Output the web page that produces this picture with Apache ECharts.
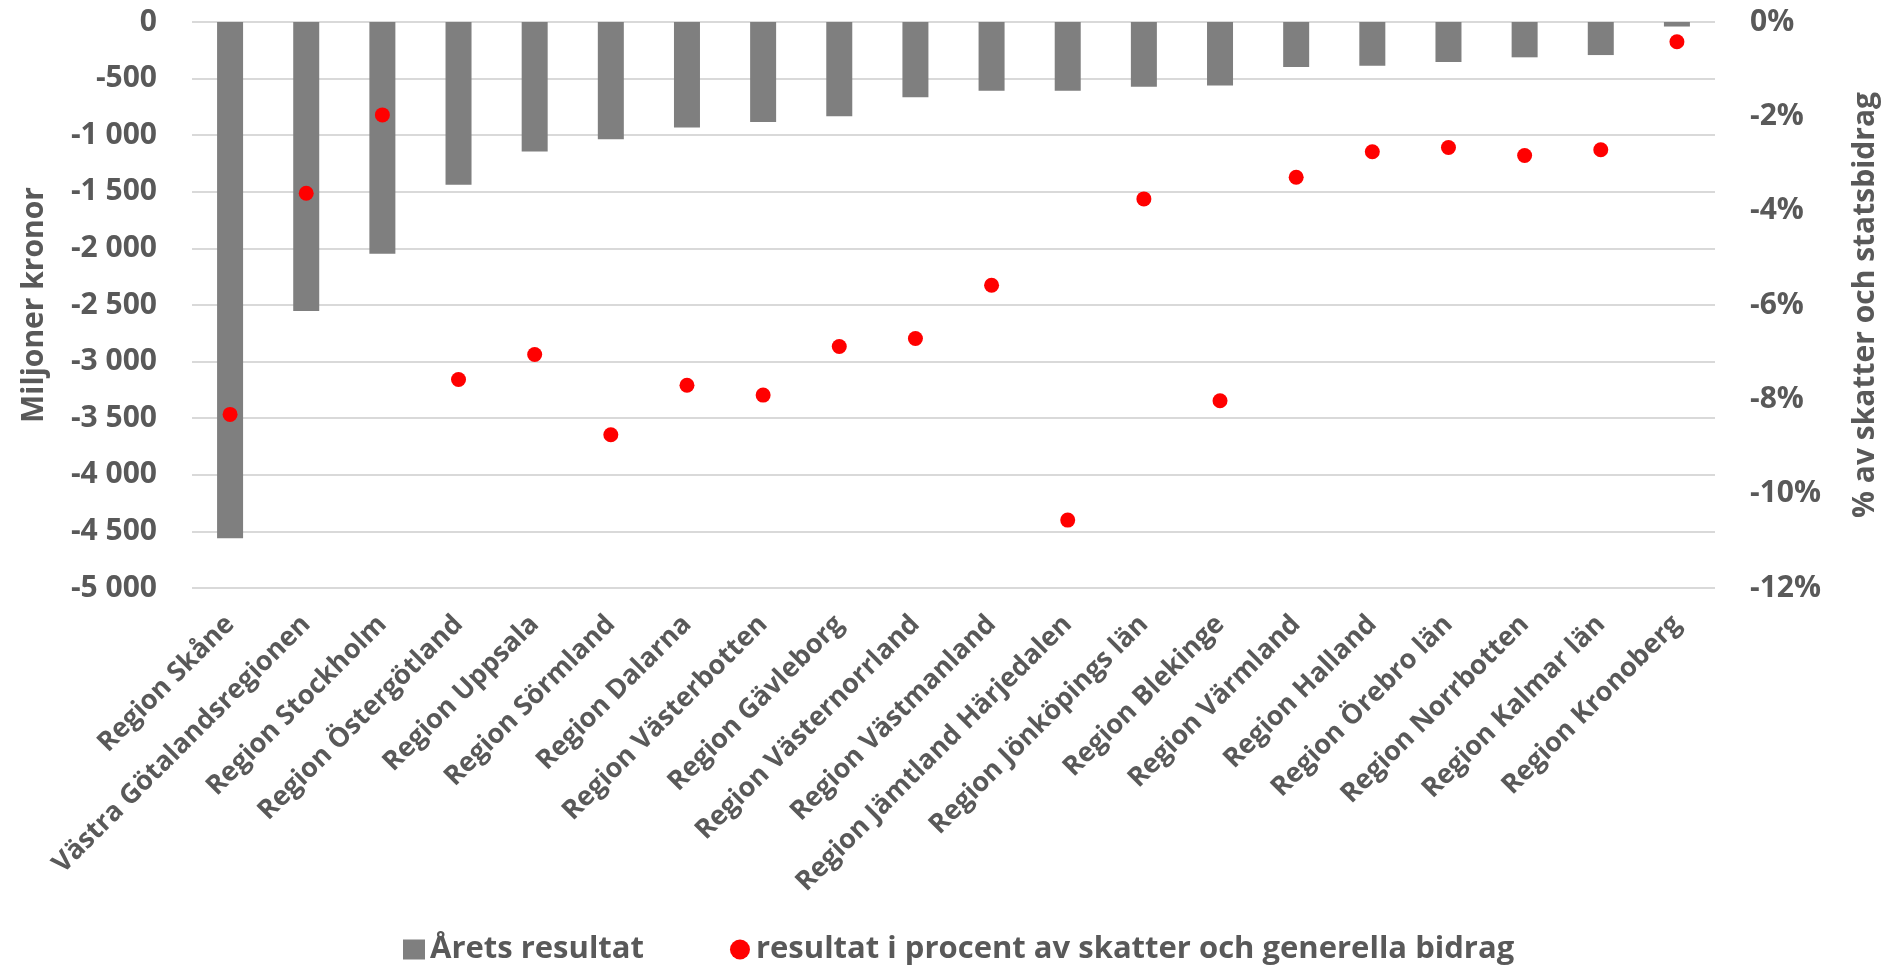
<!DOCTYPE html>
<html>
<head>
<meta charset="utf-8">
<script src="https://cdn.jsdelivr.net/npm/echarts@6/dist/echarts.min.js"></script>
<style>
html,body{margin:0;padding:0;background:#fff;}
#chart{width:1888px;height:968px;}
</style>
</head>
<body>
<div id="chart"></div>
<script>
const categories = [
  'Region Skåne','Västra Götalandsregionen','Region Stockholm','Region Östergötland',
  'Region Uppsala','Region Sörmland','Region Dalarna','Region Västerbotten',
  'Region Gävleborg','Region Västernorrland','Region Västmanland','Region Jämtland Härjedalen',
  'Region Jönköpings län','Region Blekinge','Region Värmland','Region Halland',
  'Region Örebro län','Region Norrbotten','Region Kalmar län','Region Kronoberg'
];
const aretsResultat = [-4560,-2553,-2047,-1437,-1143,-1036,-933,-883,-833,-665,-607,-607,-571,-562,-398,-386,-353,-312,-292,-40];
const procentResultat = [-8.32,-3.63,-1.97,-7.58,-7.05,-8.75,-7.70,-7.91,-6.88,-6.71,-5.58,-10.56,-3.75,-8.03,-3.29,-2.75,-2.66,-2.83,-2.71,-0.42];
const seriesNames = ['Årets resultat','resultat i procent av skatter och generella bidrag'];
const leftAxisName = 'Miljoner kronor';
const rightAxisName = '% av skatter och statsbidrag';

const FONT = 'Open Sans';
const TXT = '#595959';

function fmtThousands(v){
  const s = Math.abs(v).toString().replace(/\B(?=(\d{3})+(?!\d))/g,' ');
  return (v < 0 ? '-' : '') + s;
}

const chart = echarts.init(document.getElementById('chart'));
chart.setOption({
  animation:false,
  backgroundColor:'#ffffff',
  textStyle:{fontFamily:FONT},
  grid:{left:192,right:168,top:22,bottom:380,containLabel:false},
  legend:{
    left:398, top:929,
    itemWidth:22, itemHeight:20, itemGap:86,
    textStyle:{fontFamily:FONT,fontSize:31,fontWeight:'bold',color:TXT},
    data:[{name:seriesNames[0],icon:'rect'},{name:seriesNames[1],icon:'circle'}]
  },
  xAxis:{
    type:'category',
    data:categories,
    position:'bottom',
    axisLine:{show:false},
    axisTick:{show:false},
    axisLabel:{
      interval:0, rotate:45, margin:32,
      fontFamily:FONT, fontSize:27, fontWeight:'bold', color:TXT
    }
  },
  yAxis:[
    {
      type:'value', min:-5000, max:0, interval:500,
      name:leftAxisName, nameLocation:'middle', nameGap:143, nameRotate:90,
      nameTextStyle:{fontFamily:FONT,fontSize:30,fontWeight:'bold',color:TXT},
      axisLine:{show:false}, axisTick:{show:false},
      axisLabel:{margin:35,fontFamily:FONT,fontSize:30,fontWeight:'bold',color:TXT,formatter:fmtThousands},
      splitLine:{show:true,lineStyle:{color:'#d9d9d9',width:2}}
    },
    {
      type:'value', min:-12, max:0, interval:2, position:'right',
      name:rightAxisName, nameLocation:'middle', nameGap:135, nameRotate:90,
      nameTextStyle:{fontFamily:FONT,fontSize:30,fontWeight:'bold',color:TXT},
      axisLine:{show:false}, axisTick:{show:false},
      axisLabel:{margin:35,fontFamily:FONT,fontSize:30,fontWeight:'bold',color:TXT,formatter:'{value}%'},
      splitLine:{show:false}
    }
  ],
  series:[
    {
      name:seriesNames[0], type:'bar', yAxisIndex:0,
      data:aretsResultat, barWidth:26,
      itemStyle:{color:'#7f7f7f'}
    },
    {
      name:seriesNames[1], type:'scatter', yAxisIndex:1,
      data:procentResultat, symbol:'circle', symbolSize:15,
      itemStyle:{color:'#ff0000',opacity:1}, z:5
    }
  ]
});
</script>
</body>
</html>
